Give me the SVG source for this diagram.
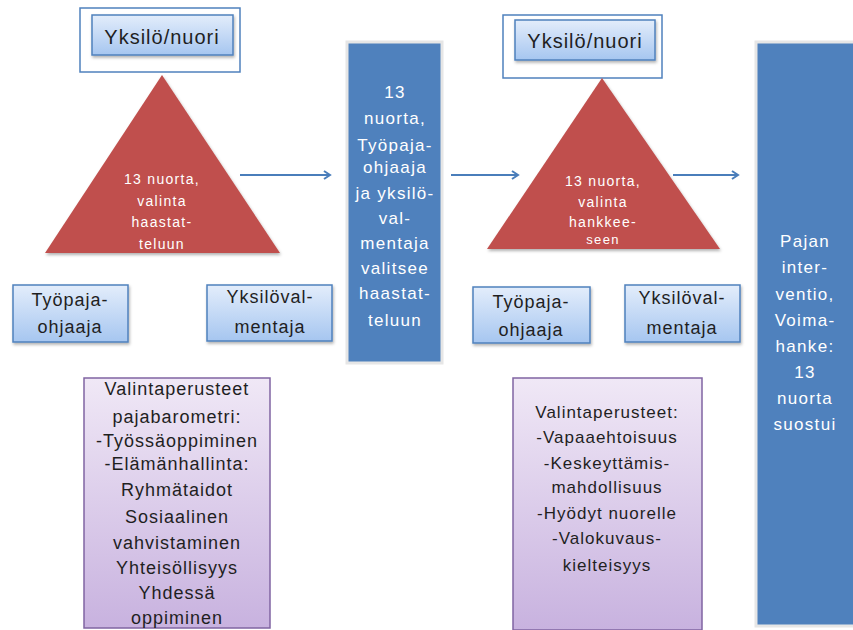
<svg xmlns="http://www.w3.org/2000/svg" width="853" height="630" viewBox="0 0 853 630">
<defs>
  <linearGradient id="btn" x1="0" y1="0" x2="0" y2="1">
    <stop offset="0" stop-color="#E3EDFB"/>
    <stop offset="1" stop-color="#A6C6F0"/>
  </linearGradient>
  <linearGradient id="purp" x1="0" y1="0" x2="0" y2="1">
    <stop offset="0" stop-color="#F0E8F6"/>
    <stop offset="1" stop-color="#C8B2DF"/>
  </linearGradient>
  <filter id="sh" x="-10%" y="-10%" width="130%" height="130%">
    <feDropShadow dx="1" dy="2" stdDeviation="1.5" flood-color="#000" flood-opacity="0.3"/>
  </filter>
  <marker id="arr" markerWidth="12" markerHeight="12" refX="9" refY="5" orient="auto" markerUnits="userSpaceOnUse">
    <path d="M3,1 L9,5 L3,9" fill="none" stroke="#4A7EBB" stroke-width="2"/>
  </marker>
  <style>
    text { font-family: "Liberation Sans", Arial, sans-serif; text-anchor: middle; }
    .dark { fill: #1F1F1F; font-size: 18px; letter-spacing: 1px; }
    .big { fill: #1F1F1F; font-size: 20px; letter-spacing: 1px; }
    .tri { fill: #FFFFFF; font-size: 14px; letter-spacing: 1.3px; }
    .col { fill: #FFFFFF; font-size: 17px; letter-spacing: 1.3px; }
    .btn { fill: url(#btn); stroke: #4F81BD; stroke-width: 1.5; filter: url(#sh); }
    .outer { fill: #FFFFFF; stroke: #4F81BD; stroke-width: 1.5; }
    .triangle { fill: #C0504D; filter: url(#sh); }
    .purple { fill: url(#purp); stroke: #8064A2; stroke-width: 1.5; }
    .blue { fill: #4F81BD; stroke: #E6E6E6; stroke-width: 3; }
    .conn { stroke: #4A7EBB; stroke-width: 1.8; fill: none; marker-end: url(#arr); }
  </style>
</defs>
<rect width="853" height="630" fill="#FFFFFF"/>

<g id="yksilo-nuori-1">
  <rect class="outer" x="80" y="8" width="160" height="64"/>
  <rect class="btn" x="92" y="15" width="141" height="40"/>
  <text class="big" x="162" y="44">Yksilö/nuori</text>
</g>

<g id="triangle-1">
  <polygon class="triangle" points="162,75 280,253 45,253"/>
  <text class="tri" x="162" y="184">13 nuorta,</text>
  <text class="tri" x="162" y="206">valinta</text>
  <text class="tri" x="162" y="227">haastat-</text>
  <text class="tri" x="162" y="249">teluun</text>
</g>

<g id="tyopajaohjaaja-1">
  <rect class="btn" x="13" y="285" width="115" height="57"/>
  <text class="dark" x="70" y="306">Työpaja-</text>
  <text class="dark" x="70" y="333">ohjaaja</text>
</g>

<g id="yksilovalmentaja-1">
  <rect class="btn" x="207" y="285" width="125" height="56"/>
  <text class="dark" x="270" y="303">Yksilöval-</text>
  <text class="dark" x="270" y="333">mentaja</text>
</g>

<g id="valintaperusteet-1">
  <rect class="purple" x="84" y="378" width="186" height="250"/>
  <text class="dark" x="177" y="395">Valintaperusteet</text>
  <text class="dark" x="177" y="423">pajabarometri:</text>
  <text class="dark" x="177" y="447">-Työssäoppiminen</text>
  <text class="dark" x="177" y="470">-Elämänhallinta:</text>
  <text class="dark" x="177" y="496">Ryhmätaidot</text>
  <text class="dark" x="177" y="523">Sosiaalinen</text>
  <text class="dark" x="177" y="549">vahvistaminen</text>
  <text class="dark" x="177" y="574">Yhteisöllisyys</text>
  <text class="dark" x="177" y="599">Yhdessä</text>
  <text class="dark" x="177" y="624">oppiminen</text>
</g>

<g id="valitsee-haastatteluun">
  <rect class="blue" x="347" y="42" width="95" height="321"/>
  <text class="col" x="395" y="98">13</text>
  <text class="col" x="395" y="124">nuorta,</text>
  <text class="col" x="395" y="151">Työpaja-</text>
  <text class="col" x="395" y="173">ohjaaja</text>
  <text class="col" x="395" y="199">ja yksilö-</text>
  <text class="col" x="395" y="224">val-</text>
  <text class="col" x="395" y="249">mentaja</text>
  <text class="col" x="395" y="274">valitsee</text>
  <text class="col" x="395" y="299">haastat-</text>
  <text class="col" x="395" y="326">teluun</text>
</g>

<g id="yksilo-nuori-2">
  <rect class="outer" x="503" y="15" width="159" height="63"/>
  <rect class="btn" x="515" y="20" width="140" height="40"/>
  <text class="big" x="585" y="48">Yksilö/nuori</text>
</g>

<g id="triangle-2">
  <polygon class="triangle" points="602,78 720,249 487,249"/>
  <text class="tri" x="603" y="186">13 nuorta,</text>
  <text class="tri" x="603" y="207">valinta</text>
  <text class="tri" x="603" y="227">hankkee-</text>
  <text class="tri" x="603" y="244" style="font-size:13px">seen</text>
</g>

<g id="tyopajaohjaaja-2">
  <rect class="btn" x="473" y="287" width="117" height="56"/>
  <text class="dark" x="531" y="308">Työpaja-</text>
  <text class="dark" x="531" y="336">ohjaaja</text>
</g>

<g id="yksilovalmentaja-2">
  <rect class="btn" x="625" y="285" width="115" height="57"/>
  <text class="dark" x="682" y="304">Yksilöval-</text>
  <text class="dark" x="682" y="334">mentaja</text>
</g>

<g id="valintaperusteet-2">
  <rect class="purple" x="513" y="378" width="189" height="252"/>
  <text class="dark" x="607" y="418" style="font-size:17px">Valintaperusteet:</text>
  <text class="dark" x="607" y="443" style="font-size:17px">-Vapaaehtoisuus</text>
  <text class="dark" x="607" y="469" style="font-size:17px">-Keskeyttämis-</text>
  <text class="dark" x="607" y="493" style="font-size:17px">mahdollisuus</text>
  <text class="dark" x="607" y="519" style="font-size:17px">-Hyödyt nuorelle</text>
  <text class="dark" x="607" y="544" style="font-size:17px">-Valokuvaus-</text>
  <text class="dark" x="607" y="571" style="font-size:17px">kielteisyys</text>
</g>

<g id="pajan-interventio">
  <rect class="blue" x="756" y="42" width="100" height="584"/>
  <text class="col" x="805" y="247">Pajan</text>
  <text class="col" x="805" y="273">inter-</text>
  <text class="col" x="805" y="300">ventio,</text>
  <text class="col" x="805" y="326">Voima-</text>
  <text class="col" x="805" y="352">hanke:</text>
  <text class="col" x="805" y="378">13</text>
  <text class="col" x="805" y="404">nuorta</text>
  <text class="col" x="805" y="430">suostui</text>
</g>

<g id="connectors">
  <line class="conn" x1="240" y1="175" x2="330" y2="175"/>
  <line class="conn" x1="451" y1="175" x2="518" y2="175"/>
  <line class="conn" x1="673" y1="175" x2="738" y2="175"/>
</g>
</svg>
